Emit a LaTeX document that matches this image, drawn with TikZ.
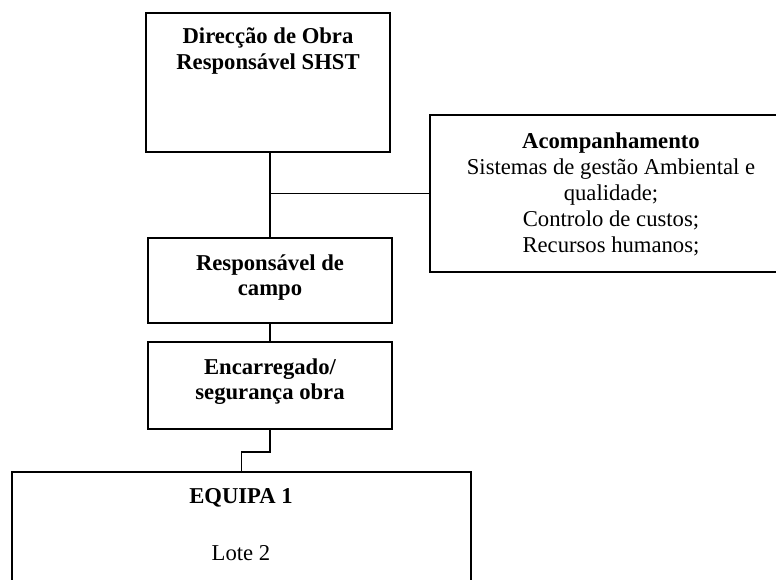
\documentclass[tikz,border=0pt]{standalone}
\usepackage{fontspec}
\setmainfont{Liberation Serif}
\usetikzlibrary{positioning}

\tikzset{
  caixa/.style={draw, line width=1.4pt, inner sep=0pt},
  texto/.style={align=center, inner sep=0pt, font=\fontsize{17}{19}\selectfont},
  negrito/.style={texto, font=\fontsize{17}{19}\selectfont\bfseries},
  liga/.style={line width=1.4pt}
}

\begin{document}
\begin{tikzpicture}[x=0.75pt, y=-0.75pt]
  \useasboundingbox (0,0) rectangle (776,580);
  % boxes
  \node[caixa, minimum width=183pt, minimum height=104.25pt] (direccao) at (268,82.5) {};
  \node[negrito] (direccaotxt) at (268,51) {Direcção de Obra\\Responsável SHST};
  \node[caixa, minimum width=262.5pt, minimum height=117.75pt] (acomp) at (605,193.5) {};
  \node[texto, font=\fontsize{17}{19.5}\selectfont] (acomptxt) at (611,194.5) {\textbf{Acompanhamento}\\Sistemas de gestão Ambiental e\\qualidade;\\Controlo de custos;\\Recursos humanos;};
  \node[caixa, minimum width=183pt, minimum height=63.75pt] (campo) at (270,280.5) {};
  \node[negrito] (campotxt) at (270,277.5) {Responsável de\\campo};
  \node[caixa, minimum width=183pt, minimum height=65.25pt] (encarregado) at (270,385.5) {};
  \node[negrito] (encarregadotxt) at (270,381.5) {Encarregado/\\segurança obra};
  \node[caixa, minimum width=344.25pt, minimum height=96pt] (equipa) at (241.5,536) {};
  \node[negrito] (equipatxt) at (241,498) {EQUIPA 1};
  \node[texto] (lotetxt) at (241,553) {Lote 2};
  % lines
  \coordinate (ramo) at (campo.north |- acomp.west);
  \draw[liga] (campo.north |- direccao.south) -- (campo.north);
  \draw[liga] (ramo) -- (acomp.west);
  \draw[liga] (campo.south) -- (encarregado.north);
  \draw[liga] (encarregado.south) -- ++(0,22) -| (equipa.north);
\end{tikzpicture}
\end{document}
